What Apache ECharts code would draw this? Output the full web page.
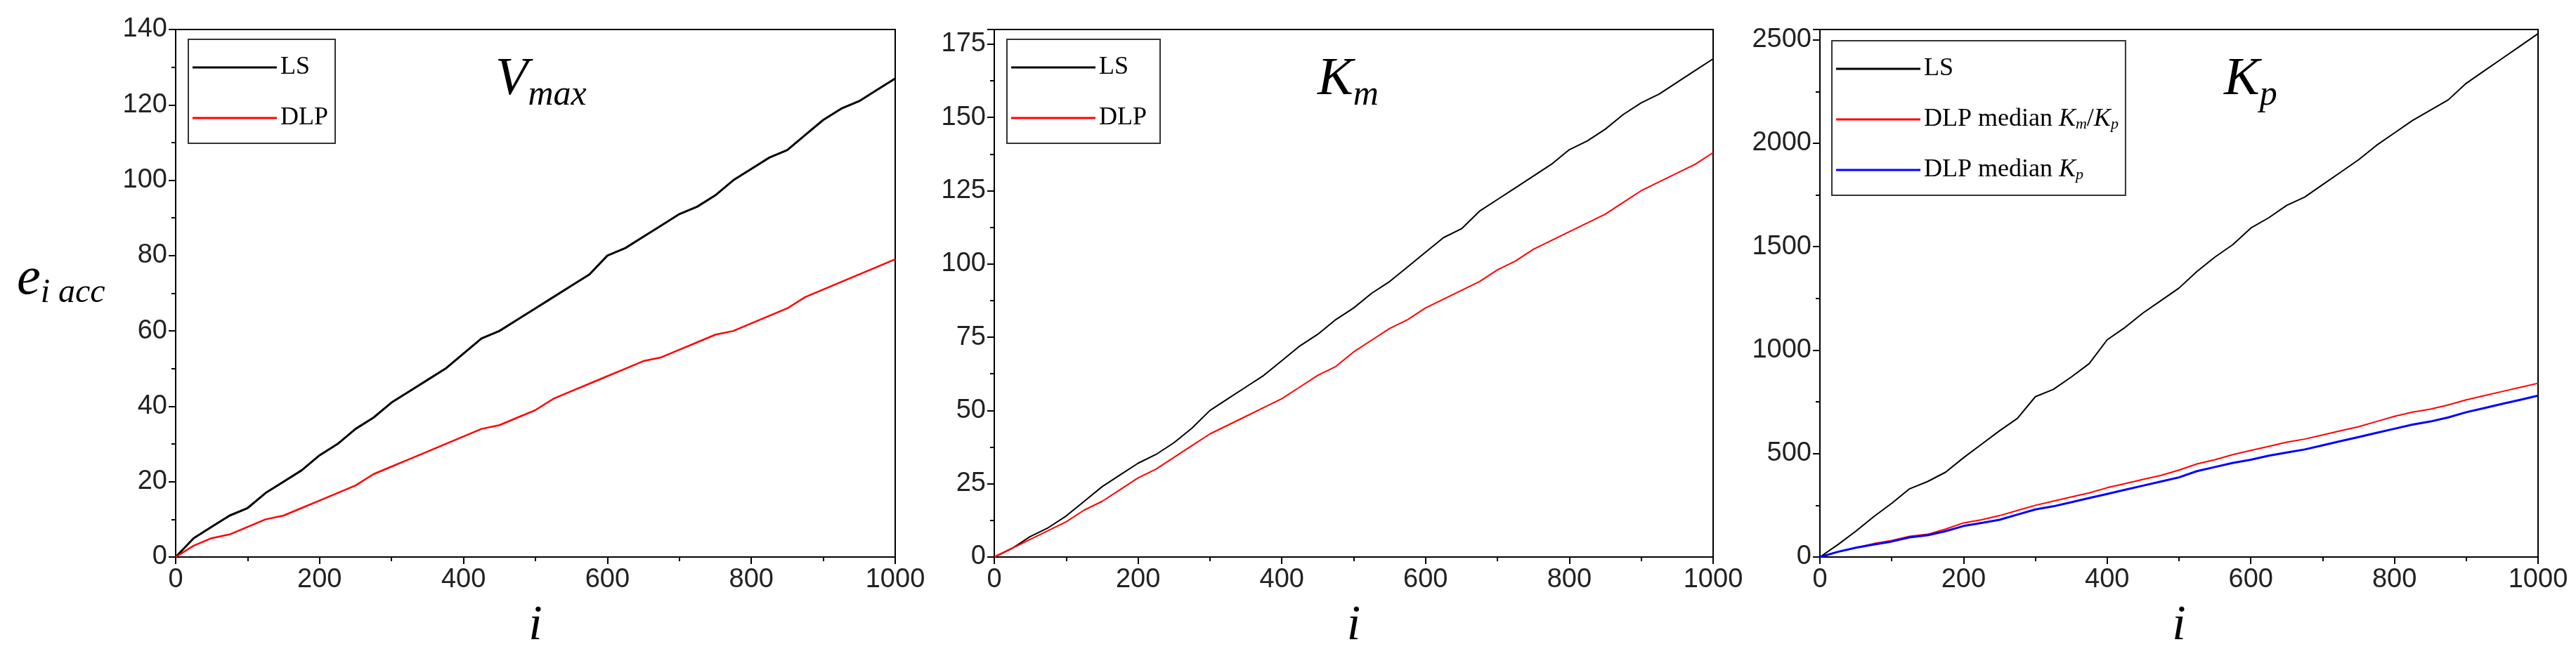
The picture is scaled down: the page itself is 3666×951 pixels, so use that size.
<!DOCTYPE html>
<html><head><meta charset="utf-8">
<script src="https://cdn.jsdelivr.net/npm/echarts@6/dist/echarts.min.js"></script>
<style>html,body{margin:0;padding:0;background:#fff}#c{width:3666px;height:951px}</style>
</head><body><div id="c"></div>
<script>
const iValues = [0,25,50,75,100,125,150,175,200,225,250,275,300,325,350,375,400,425,450,475,500,525,550,575,600,625,650,675,700,725,750,775,800,825,850,875,900,925,950,975,1000];
const vmaxLS  = [0,5,8,11,13,17,20,23,27,30,34,37,41,44,47,50,54,58,60,63,66,69,72,75,80,82,85,88,91,93,96,100,103,106,108,112,116,119,121,124,127];
const vmaxDLP = [0,3,5,6,8,10,11,13,15,17,19,22,24,26,28,30,32,34,35,37,39,42,44,46,48,50,52,53,55,57,59,60,62,64,66,69,71,73,75,77,79];
const kmLS    = [0,3,7,10,14,19,24,28,32,35,39,44,50,54,58,62,67,72,76,81,85,90,94,99,104,109,112,118,122,126,130,134,139,142,146,151,155,158,162,166,170];
const kmDLP   = [0,3,6,9,12,16,19,23,27,30,34,38,42,45,48,51,54,58,62,65,70,74,78,81,85,88,91,94,98,101,105,108,111,114,117,121,125,128,131,134,138];
const kpLS    = [0,60,125,195,260,330,365,410,480,545,610,670,775,810,870,935,1050,1110,1180,1240,1300,1380,1450,1510,1590,1640,1700,1740,1800,1860,1920,1990,2050,2110,2160,2210,2290,2350,2410,2470,2530];
const kpDLPratio = [0,25,45,65,80,100,110,135,165,180,200,225,250,270,290,310,335,355,375,395,420,450,470,495,515,535,555,570,590,610,630,655,680,700,715,735,760,780,800,820,840];
const kpDLPmed   = [0,25,45,60,75,95,105,125,150,165,180,205,230,245,265,285,305,325,345,365,385,415,435,455,470,490,505,520,540,560,580,600,620,640,655,675,700,720,740,760,780];
const yTicks = [{max:140,interval:20},{max:180,interval:25},{max:2550,interval:500}];

const chart = echarts.init(document.getElementById('c'));
const grids = [{left:250,width:1024},{left:1415,width:1023},{left:2590,width:1022}];
const tickFont = {fontFamily:'Liberation Sans',fontSize:38,color:'#222',formatter:v=>String(v)};
const pair = a => iValues.map((x,k)=>[x,a[k]]);
const xAxes = grids.map((g,k)=>({type:'value',gridIndex:k,min:0,max:1000,interval:200,
  axisLine:{lineStyle:{color:'#000',width:2}},axisTick:{length:10,lineStyle:{color:'#000',width:2}},
  minorTick:{show:true,splitNumber:2,length:6,lineStyle:{color:'#000',width:2}},splitLine:{show:false},
  axisLabel:Object.assign({margin:14},tickFont),
  name:'i',nameLocation:'middle',nameGap:64,nameTextStyle:{fontFamily:'Liberation Serif',fontStyle:'italic',fontSize:70,color:'#000'}}));
const yAxes = yTicks.map((t,k)=>({type:'value',gridIndex:k,min:0,max:t.max,interval:t.interval,
  axisLine:{lineStyle:{color:'#000',width:2}},axisTick:{length:10,lineStyle:{color:'#000',width:2}},
  minorTick:{show:true,splitNumber:2,length:6,lineStyle:{color:'#000',width:2}},splitLine:{show:false},
  axisLabel:Object.assign({margin:12},tickFont)}));
const mk = (name,k,data,color,w)=>({type:'line',name,xAxisIndex:k,yAxisIndex:k,data:pair(data),showSymbol:false,symbol:'none',
  lineStyle:{color,width:w},itemStyle:{color},animation:false});
const legendBase = {orient:'vertical',icon:'rect',itemWidth:120,itemHeight:3,itemGap:36,borderColor:'#333',borderWidth:2,padding:[22,10,18,6],
  textStyle:{fontFamily:'Liberation Serif',fontSize:36,color:'#000',
    rich:{it:{fontFamily:'Liberation Serif',fontStyle:'italic',fontSize:36},sub:{fontFamily:'Liberation Serif',fontStyle:'italic',fontSize:22,verticalAlign:'bottom',padding:[14,0,0,0]}}}};
const title = (left,main,sub)=>({left,top:62,text:'{m|'+main+'}{s|'+sub+'}',textStyle:{fontWeight:'normal',rich:{
  m:{fontFamily:'Liberation Serif',fontStyle:'italic',fontWeight:'normal',fontSize:76,color:'#000'},
  s:{fontFamily:'Liberation Serif',fontStyle:'italic',fontWeight:'normal',fontSize:50,color:'#000',padding:[44,0,0,0]}}}});
chart.setOption({
  animation:false,
  grid:grids.map(g=>({left:g.left,width:g.width,top:42,height:751,show:true,borderColor:'#000',borderWidth:2})),
  xAxis:xAxes,yAxis:yAxes,
  title:[title(700,'V','max'),title(1870,'K','m'),title(3160,'K','p')],
  legend:[
    Object.assign({},legendBase,{left:268,top:56,data:['LS','DLP']}),
    Object.assign({},legendBase,{left:1433,top:56,data:['LS ','DLP ']}),
    Object.assign({},legendBase,{left:2607,top:58,data:['LS  ','DLP median Km/Kp','DLP median Kp'],
      formatter:n=> n==='DLP median Km/Kp' ? 'DLP median {it|K}{sub|m}/{it|K}{sub|p}' : n==='DLP median Kp' ? 'DLP median {it|K}{sub|p}' : n})
  ],
  graphic:[{type:'text',left:24,top:360,style:{rich:{e:{fontFamily:'Liberation Serif',fontStyle:'italic',fontSize:76,fill:'#000'},s:{fontFamily:'Liberation Serif',fontStyle:'italic',fontSize:48,fill:'#000',padding:[38,0,0,0]}},text:'{e|e}{s|i acc}'}}],
  series:[
    mk('LS',0,vmaxLS,'#000',3), mk('DLP',0,vmaxDLP,'#ff0000',2.5),
    mk('LS ',1,kmLS,'#000',2), mk('DLP ',1,kmDLP,'#ff0000',2),
    mk('LS  ',2,kpLS,'#000',2), mk('DLP median Km/Kp',2,kpDLPratio,'#ff0000',2), mk('DLP median Kp',2,kpDLPmed,'#0000ff',3)
  ]
});
</script></body></html>
